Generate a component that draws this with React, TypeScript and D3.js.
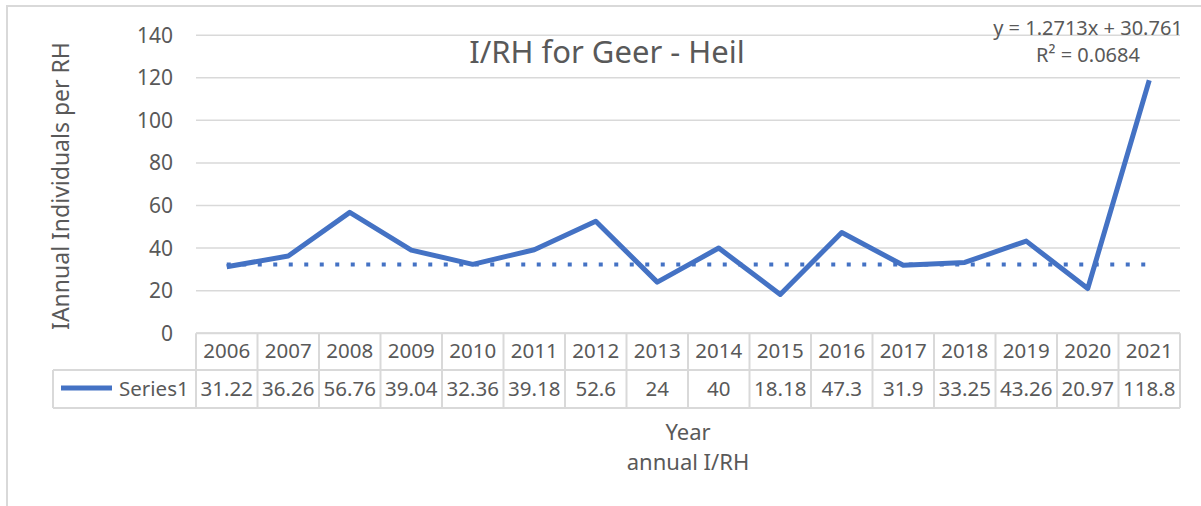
import React, { useEffect, useRef } from 'react';
import * as d3 from 'd3';

// chart data
const years = ['2006', '2007', '2008', '2009', '2010', '2011', '2012', '2013', '2014', '2015', '2016', '2017', '2018', '2019', '2020', '2021'];
const series1 = [31.22, 36.26, 56.76, 39.04, 32.36, 39.18, 52.6, 24, 40, 18.18, 47.3, 31.9, 33.25, 43.26, 20.97, 118.8];
const seriesLabels = ['31.22', '36.26', '56.76', '39.04', '32.36', '39.18', '52.6', '24', '40', '18.18', '47.3', '31.9', '33.25', '43.26', '20.97', '118.8'];
const yTicks = [0, 20, 40, 60, 80, 100, 120, 140];
// dotted trendline as drawn in the picture (first / last year)
const trendEnds = [32.3, 32.3];
const trendText = ['y = 1.2713x + 30.761', 'R² = 0.0684'];

const W = 1201;
const H = 506;
const FONT = '"Noto Sans", "Open Sans", sans-serif';
const TXT = '#595959';
const GRID = '#d9d9d9';
const BLUE = '#4472C4';

const App = () => {
  const svgRef = useRef<SVGSVGElement>(null);

  useEffect(() => {
    const svg = d3.select(svgRef.current);
    svg.selectAll('*').remove();

    const left = 196, right = 1180, top = 35.2, bottom = 333.2;

    const x = d3.scaleBand().domain(years).range([left, right]).paddingInner(0).paddingOuter(0);
    const y = d3.scaleLinear().domain([0, 140]).range([bottom, top]);
    const cx = (d: string) => (x(d) as number) + x.bandwidth() / 2;

    // outer chart frame (cropped on right/bottom)
    svg.append('path')
      .attr('d', `M7,${H + 5} L7,6 L${W + 5},6`)
      .attr('fill', 'none')
      .attr('stroke', GRID)
      .attr('stroke-width', 2);

    // gridlines
    svg.append('g')
      .selectAll('line')
      .data(yTicks)
      .join('line')
      .attr('x1', left)
      .attr('x2', right)
      .attr('y1', d => y(d))
      .attr('y2', d => y(d))
      .attr('stroke', GRID)
      .attr('stroke-width', 1.5);

    // y tick labels
    svg.append('g')
      .selectAll('text')
      .data(yTicks)
      .join('text')
      .attr('x', 173)
      .attr('y', d => y(d))
      .attr('dy', '0.36em')
      .attr('text-anchor', 'end')
      .attr('fill', TXT)
      .style('font-family', FONT)
      .style('font-size', '21px')
      .text(d => d);

    // y axis title
    svg.append('text')
      .attr('transform', `translate(69,${186}) rotate(-90)`)
      .attr('text-anchor', 'middle')
      .attr('fill', TXT)
      .style('font-family', FONT)
      .style('font-size', '23px')
      .text('IAnnual Individuals per RH');

    // title
    svg.append('text')
      .attr('x', 607)
      .attr('y', 63)
      .attr('text-anchor', 'middle')
      .attr('fill', TXT)
      .style('font-family', FONT)
      .style('font-size', '31px')
      .text('I/RH for Geer - Heil');

    // data table
    const rowTop = bottom, rowMid = 370, rowBot = 408;
    const tbl = svg.append('g').attr('stroke', GRID).attr('stroke-width', 2).attr('fill', 'none');
    tbl.append('line').attr('x1', left).attr('x2', right).attr('y1', rowTop).attr('y2', rowTop);
    tbl.append('line').attr('x1', 53).attr('x2', right).attr('y1', rowMid).attr('y2', rowMid);
    tbl.append('line').attr('x1', 53).attr('x2', right).attr('y1', rowBot).attr('y2', rowBot);
    tbl.append('line').attr('x1', 53).attr('x2', 53).attr('y1', rowMid).attr('y2', rowBot);
    tbl.selectAll('line.v')
      .data([...years.map(d => x(d) as number), right])
      .join('line')
      .attr('class', 'v')
      .attr('x1', d => d)
      .attr('x2', d => d)
      .attr('y1', rowTop)
      .attr('y2', rowBot);

    svg.append('g')
      .selectAll('text')
      .data(years)
      .join('text')
      .attr('x', d => cx(d))
      .attr('y', 358)
      .attr('text-anchor', 'middle')
      .attr('fill', TXT)
      .style('font-family', FONT)
      .style('font-size', '20.5px')
      .text(d => d);

    svg.append('g')
      .selectAll('text')
      .data(seriesLabels)
      .join('text')
      .attr('x', (d, i) => cx(years[i]))
      .attr('y', 396)
      .attr('text-anchor', 'middle')
      .attr('fill', TXT)
      .style('font-family', FONT)
      .style('font-size', '20.5px')
      .text(d => d);

    // legend key in table
    svg.append('line')
      .attr('x1', 61).attr('x2', 112)
      .attr('y1', 388).attr('y2', 388)
      .attr('stroke', BLUE)
      .attr('stroke-width', 5);
    svg.append('text')
      .attr('x', 119)
      .attr('y', 396)
      .attr('fill', TXT)
      .style('font-family', FONT)
      .style('font-size', '20.5px')
      .text('Series1');

    // x axis title (two lines)
    svg.append('text')
      .attr('x', (left + right) / 2)
      .attr('y', 440)
      .attr('text-anchor', 'middle')
      .attr('fill', TXT)
      .style('font-family', FONT)
      .style('font-size', '22px')
      .text('Year');
    svg.append('text')
      .attr('x', (left + right) / 2)
      .attr('y', 470)
      .attr('text-anchor', 'middle')
      .attr('fill', TXT)
      .style('font-family', FONT)
      .style('font-size', '22px')
      .text('annual I/RH');

    // trendline (dotted)
    svg.append('line')
      .attr('x1', cx(years[0]))
      .attr('x2', cx(years[years.length - 1]))
      .attr('y1', y(trendEnds[0]))
      .attr('y2', y(trendEnds[1]))
      .attr('stroke', BLUE)
      .attr('stroke-width', 4)
      .attr('stroke-dasharray', '4,11.5');

    // series line
    const line = d3.line<number>()
      .x((d, i) => cx(years[i]))
      .y(d => y(d));
    svg.append('path')
      .datum(series1)
      .attr('d', line)
      .attr('fill', 'none')
      .attr('stroke', BLUE)
      .attr('stroke-width', 5)
      .attr('stroke-linejoin', 'round');

    // trendline equation
    svg.append('g')
      .selectAll('text')
      .data(trendText)
      .join('text')
      .attr('x', 1088)
      .attr('y', (d, i) => 35 + i * 27)
      .attr('text-anchor', 'middle')
      .attr('fill', TXT)
      .style('font-family', FONT)
      .style('font-size', '20px')
      .text(d => d);
  }, []);

  return (
    <div style={{ position: 'absolute', left: 0, top: 0, background: '#fff' }}>
      <svg ref={svgRef} width={W} height={H} style={{ display: 'block' }}></svg>
    </div>
  );
};

export default App;
